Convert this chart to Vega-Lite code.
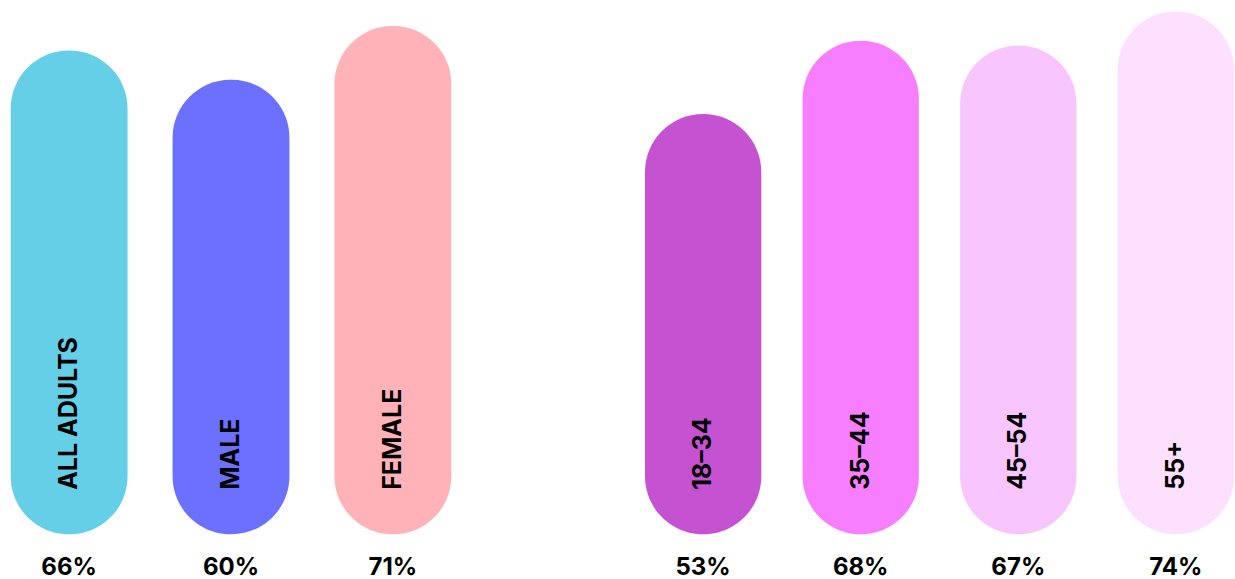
{
  "$schema": "https://vega.github.io/schema/vega-lite/v6.json",
  "padding": 0,
  "spacing": 183,
  "background": "white",
  "config": {"view": {"stroke": null}, "text": {"font": "Inter", "fontWeight": "bold"}},
  "data": {"values": [
    {"group": "Gender", "label": "ALL ADULTS", "pct": 0.66},
    {"group": "Gender", "label": "MALE", "pct": 0.60},
    {"group": "Gender", "label": "FEMALE", "pct": 0.71},
    {"group": "Age", "label": "18–34", "pct": 0.53},
    {"group": "Age", "label": "35–44", "pct": 0.68},
    {"group": "Age", "label": "45–54", "pct": 0.67},
    {"group": "Age", "label": "55+", "pct": 0.74}
  ]},
  "hconcat": [
    {
      "width": 462,
      "height": 579,
      "transform": [{"filter": "datum.group === 'Gender'"}],
      "encoding": {
        "x": {"field": "label", "type": "nominal", "sort": null, "axis": null,
              "scale": {"paddingInner": 0.278, "paddingOuter": 0.066}}
      },
      "layer": [
        {
          "mark": {"type": "bar", "cornerRadius": 58},
          "encoding": {
            "y": {"field": "pct", "type": "quantitative", "axis": null,
                  "scale": {"domain": [-0.4215, 0.7633], "nice": false, "zero": false}},
            "y2": {"datum": -0.33},
            "color": {"field": "label", "type": "nominal", "legend": null,
                      "scale": {"domain": ["ALL ADULTS", "MALE", "FEMALE", "18–34", "35–44", "45–54", "55+"],
                                "range": ["#66CFE8", "#6B70FF", "#FFB3B9", "#C452D1", "#F77FFF", "#F8C5FF", "#FCE0FD"]}}
          }
        },
        {
          "mark": {"type": "text", "angle": 270, "align": "left", "baseline": "middle", "fontSize": 25, "color": "black"},
          "encoding": {
            "y": {"datum": -0.239, "type": "quantitative", "scale": {"domain": [-0.4215, 0.7633], "nice": false, "zero": false}},
            "text": {"field": "label"}
          }
        },
        {
          "mark": {"type": "text", "align": "center", "baseline": "middle", "fontSize": 24, "color": "black"},
          "encoding": {
            "y": {"datum": -0.399, "type": "quantitative", "scale": {"domain": [-0.4215, 0.7633], "nice": false, "zero": false}},
            "text": {"field": "pct", "type": "quantitative", "format": ".0%"}
          }
        }
      ]
    },
    {
      "width": 589,
      "height": 579,
      "transform": [{"filter": "datum.group === 'Age'"}],
      "encoding": {
        "x": {"field": "label", "type": "nominal", "sort": null, "axis": null,
              "scale": {"paddingInner": 0.262, "paddingOuter": 0}}
      },
      "layer": [
        {
          "mark": {"type": "bar", "cornerRadius": 58},
          "encoding": {
            "y": {"field": "pct", "type": "quantitative", "axis": null,
                  "scale": {"domain": [-0.4215, 0.7633], "nice": false, "zero": false}},
            "y2": {"datum": -0.33},
            "color": {"field": "label", "type": "nominal", "legend": null,
                      "scale": {"domain": ["ALL ADULTS", "MALE", "FEMALE", "18–34", "35–44", "45–54", "55+"],
                                "range": ["#66CFE8", "#6B70FF", "#FFB3B9", "#C452D1", "#F77FFF", "#F8C5FF", "#FCE0FD"]}}
          }
        },
        {
          "mark": {"type": "text", "angle": 270, "align": "left", "baseline": "middle", "fontSize": 25, "color": "black"},
          "encoding": {
            "y": {"datum": -0.239, "type": "quantitative", "scale": {"domain": [-0.4215, 0.7633], "nice": false, "zero": false}},
            "text": {"field": "label"}
          }
        },
        {
          "mark": {"type": "text", "align": "center", "baseline": "middle", "fontSize": 24, "color": "black"},
          "encoding": {
            "y": {"datum": -0.399, "type": "quantitative", "scale": {"domain": [-0.4215, 0.7633], "nice": false, "zero": false}},
            "text": {"field": "pct", "type": "quantitative", "format": ".0%"}
          }
        }
      ]
    }
  ]
}
